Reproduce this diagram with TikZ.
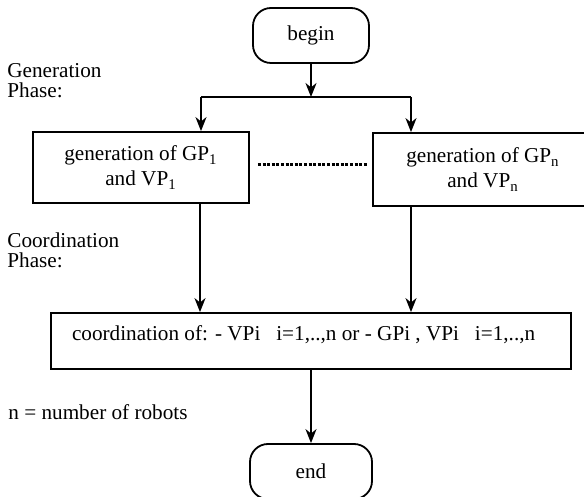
\documentclass[tikz,border=0pt]{standalone}
\usepackage{fontspec}
\setmainfont{Liberation Serif}
\usepackage{tikz}
\usetikzlibrary{positioning, arrows.meta}

\tikzset{
  term/.style={draw, line width=0.9pt, rounded corners=9pt, minimum width=58pt, minimum height=27.5pt, inner sep=0pt},
  proc/.style={draw, line width=0.9pt, align=center, inner sep=0pt},
  phase/.style={anchor=west, align=left, inner sep=0pt},
  flow/.style={line width=0.9pt, -{Stealth[length=7pt, width=5.5pt, inset=2.2pt]}},
  dotline/.style={line width=1.5pt, dash pattern=on 1.5pt off 0.8pt, shorten <=4pt, shorten >=2pt}
}

\begin{document}
\begin{tikzpicture}[x=0.5pt, y=-0.5pt, font=\fontsize{10.6}{10}\selectfont]
\useasboundingbox (0,0) rectangle (584,497);
\clip (0,0) rectangle (584,497);

\node[term] (begin) at (311,35.5) {begin};
\node[proc, minimum width=108pt, minimum height=35.5pt, font=\fontsize{10.6}{12.5}\selectfont] (gen1) at (141,167.5) {generation of GP\textsubscript{1}\\and VP\textsubscript{1}};
\node[proc, minimum width=110pt, minimum height=36.5pt, font=\fontsize{10.6}{12.5}\selectfont] (genn) at (483,169.5) {generation of GP\textsubscript{n}\\and VP\textsubscript{n}};
\node[proc, minimum height=28pt, inner xsep=10.5pt, text height=7pt, text depth=7pt] (coord) at (311,341) {\makebox[239pt][l]{coordination of: - VPi\hspace{0.5em} i=1,..,n or - GPi , VPi\hspace{0.5em} i=1,..,n}};
\node[term, minimum width=61pt] (end) at (311,471.5) {end};

\node[phase] (genlbl) at (7,81) {Generation\\Phase:};
\node[phase] (coolbl) at (7,250) {Coordination\\Phase:};
\node[phase] (nlbl) at (8,412) {n = number of robots};

\coordinate (split) at (311,97);
\coordinate (left) at (201,97);
\coordinate (right) at (411,97);

\draw[flow] (begin) -- (split);
\draw[line width=0.9pt] (left) -- (right);
\draw[flow] (left) -- (left |- gen1.north);
\draw[flow] (right) -- (right |- genn.north);
\draw[dotline] (gen1.east |- 0,165) -- (genn.west |- 0,165);
\draw[flow] (gen1.south -| 200,0) -- (200,0 |- coord.north);
\draw[flow] (genn.south -| right) -- (right |- coord.north);
\draw[flow] (coord) -- (end);

\end{tikzpicture}
\end{document}
